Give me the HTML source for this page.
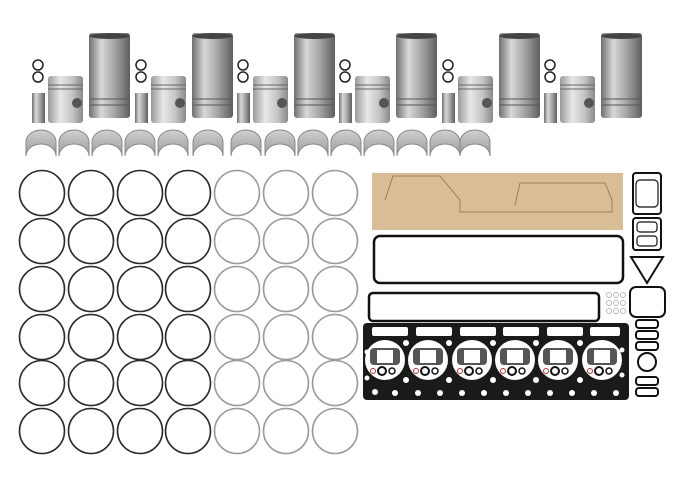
<!DOCTYPE html>
<html><head><style>html,body{margin:0;padding:0;background:#fff;width:689px;height:478px;overflow:hidden}</style></head>
<body>
<svg width="689" height="478" viewBox="0 0 689 478" xmlns="http://www.w3.org/2000/svg">
<defs>
<linearGradient id="met" x1="0" x2="1" y1="0" y2="0">
<stop offset="0" stop-color="#6f6f6f"/><stop offset="0.3" stop-color="#d8d8d8"/><stop offset="0.6" stop-color="#a9a9a9"/><stop offset="1" stop-color="#5e5e5e"/></linearGradient>
<linearGradient id="pis" x1="0" x2="1" y1="0" y2="0">
<stop offset="0" stop-color="#9a9a9a"/><stop offset="0.35" stop-color="#e8e8e8"/><stop offset="0.7" stop-color="#c4c4c4"/><stop offset="1" stop-color="#8a8a8a"/></linearGradient>
<linearGradient id="brg" x1="0" x2="0" y1="0" y2="1"><stop offset="0" stop-color="#d0d0d0"/><stop offset="1" stop-color="#9a9a9a"/></linearGradient>
<g id="set">
 <rect x="0" y="0" width="41" height="85" rx="3" fill="url(#met)"/>
 <ellipse cx="20.5" cy="3" rx="20" ry="3" fill="#444"/>
 <line x1="1" y1="66" x2="40" y2="66" stroke="#555"/><line x1="1" y1="72" x2="40" y2="72" stroke="#555"/>
 <rect x="-41" y="43" width="35" height="47" rx="3" fill="url(#pis)"/>
 <line x1="-41" y1="52" x2="-6" y2="52" stroke="#666"/><line x1="-41" y1="56" x2="-6" y2="56" stroke="#666"/>
 <circle cx="-12" cy="70" r="5" fill="#555"/>
 <rect x="-57" y="60" width="13" height="30" fill="url(#met)"/>
 <circle cx="-51" cy="32" r="5" fill="none" stroke="#222" stroke-width="1.5"/>
 <circle cx="-51" cy="44" r="5" fill="none" stroke="#222" stroke-width="1.5"/>
</g>
<g id="br"><path d="M0,12 A15,12 0 0 1 30,12 L30,26 A15,12 0 0 0 0,26 Z" fill="url(#brg)" stroke="#888"/></g>
<g id="bore">
 <circle r="20" fill="#fff"/>
 <rect x="-15" y="-12" width="30" height="17" rx="4" fill="#555"/>
 <rect x="-8" y="-10" width="16" height="13" fill="#fff"/>
 <circle cx="-12" cy="11" r="2.5" fill="none" stroke="#b33" stroke-width="1"/>
 <circle cx="-3" cy="11" r="4" fill="none" stroke="#111" stroke-width="2"/>
 <circle cx="7" cy="11" r="3" fill="none" stroke="#111" stroke-width="1.5"/>
</g>
</defs>
<use href="#set" x="89" y="33"/><use href="#set" x="192" y="33"/><use href="#set" x="294" y="33"/>
<use href="#set" x="396" y="33"/><use href="#set" x="499" y="33"/><use href="#set" x="601" y="33"/>
<g>
<use href="#br" x="26" y="130"/><use href="#br" x="59" y="130"/><use href="#br" x="92" y="130"/><use href="#br" x="125" y="130"/><use href="#br" x="158" y="130"/><use href="#br" x="193" y="130"/><use href="#br" x="231" y="130"/><use href="#br" x="265" y="130"/><use href="#br" x="298" y="130"/><use href="#br" x="331" y="130"/><use href="#br" x="364" y="130"/><use href="#br" x="397" y="130"/><use href="#br" x="430" y="130"/><use href="#br" x="460" y="130"/>
</g>
<g fill="none" stroke-width="1.6">
<g stroke="#2a2a2a">
<circle cx="42" cy="193" r="22.5"/><circle cx="91" cy="193" r="22.5"/><circle cx="140" cy="193" r="22.5"/><circle cx="188" cy="193" r="22.5"/>
<circle cx="42" cy="241" r="22.5"/><circle cx="91" cy="241" r="22.5"/><circle cx="140" cy="241" r="22.5"/><circle cx="188" cy="241" r="22.5"/>
<circle cx="42" cy="289" r="22.5"/><circle cx="91" cy="289" r="22.5"/><circle cx="140" cy="289" r="22.5"/><circle cx="188" cy="289" r="22.5"/>
<circle cx="42" cy="337" r="22.5"/><circle cx="91" cy="337" r="22.5"/><circle cx="140" cy="337" r="22.5"/><circle cx="188" cy="337" r="22.5"/>
<circle cx="42" cy="383" r="22.5"/><circle cx="91" cy="383" r="22.5"/><circle cx="140" cy="383" r="22.5"/><circle cx="188" cy="383" r="22.5"/>
<circle cx="42" cy="431" r="22.5"/><circle cx="91" cy="431" r="22.5"/><circle cx="140" cy="431" r="22.5"/><circle cx="188" cy="431" r="22.5"/>
</g>
<g stroke="#9a9a9a">
<circle cx="237" cy="193" r="22.5"/><circle cx="286" cy="193" r="22.5"/><circle cx="335" cy="193" r="22.5"/>
<circle cx="237" cy="241" r="22.5"/><circle cx="286" cy="241" r="22.5"/><circle cx="335" cy="241" r="22.5"/>
<circle cx="237" cy="289" r="22.5"/><circle cx="286" cy="289" r="22.5"/><circle cx="335" cy="289" r="22.5"/>
<circle cx="237" cy="337" r="22.5"/><circle cx="286" cy="337" r="22.5"/><circle cx="335" cy="337" r="22.5"/>
<circle cx="237" cy="383" r="22.5"/><circle cx="286" cy="383" r="22.5"/><circle cx="335" cy="383" r="22.5"/>
<circle cx="237" cy="431" r="22.5"/><circle cx="286" cy="431" r="22.5"/><circle cx="335" cy="431" r="22.5"/>
</g>
</g>
<!-- gaskets -->
<rect x="372" y="173" width="251" height="57" fill="#d9bd96"/>
<path d="M385,200 L393,176 L440,176 L460,200 L460,212 L612,212 L612,200 L605,183 L520,183 L515,205" fill="none" stroke="#8a6f4c" stroke-width="0.8"/>
<rect x="374" y="236" width="249" height="47" rx="6" fill="none" stroke="#111" stroke-width="2.5"/>
<rect x="369" y="293" width="230" height="28" rx="4" fill="none" stroke="#111" stroke-width="2.5"/>
<rect x="363" y="323" width="266" height="77" rx="4" fill="#1a1a1a"/>
<g fill="#fff">
<rect x="372" y="327" width="36" height="9" rx="2"/><rect x="416" y="327" width="36" height="9" rx="2"/><rect x="460" y="327" width="36" height="9" rx="2"/><rect x="503" y="327" width="36" height="9" rx="2"/><rect x="547" y="327" width="36" height="9" rx="2"/><rect x="590" y="327" width="30" height="9" rx="2"/>
<circle cx="367" cy="352" r="2.5"/><circle cx="367" cy="378" r="2.5"/><circle cx="406" cy="343" r="3"/><circle cx="449" cy="343" r="3"/><circle cx="493" cy="343" r="3"/><circle cx="536" cy="343" r="3"/><circle cx="580" cy="343" r="3"/><circle cx="622" cy="350" r="2.5"/>
<circle cx="406" cy="380" r="3"/><circle cx="449" cy="380" r="3"/><circle cx="493" cy="380" r="3"/><circle cx="536" cy="380" r="3"/><circle cx="580" cy="380" r="3"/><circle cx="622" cy="375" r="2.5"/>
<circle cx="375" cy="392" r="3"/><circle cx="395" cy="393" r="3"/><circle cx="418" cy="393" r="3"/><circle cx="440" cy="393" r="3"/><circle cx="462" cy="393" r="3"/><circle cx="484" cy="393" r="3"/><circle cx="506" cy="393" r="3"/><circle cx="528" cy="393" r="3"/><circle cx="550" cy="393" r="3"/><circle cx="572" cy="393" r="3"/><circle cx="594" cy="393" r="3"/><circle cx="616" cy="393" r="3"/>
</g>
<use href="#bore" x="385" y="360"/><use href="#bore" x="428" y="360"/><use href="#bore" x="472" y="360"/><use href="#bore" x="515" y="360"/><use href="#bore" x="558" y="360"/><use href="#bore" x="602" y="360"/>
<g fill="none" stroke="#111" stroke-width="2">
<rect x="633" y="173" width="28" height="41" rx="3"/>
<rect x="636" y="180" width="22" height="27" rx="4" stroke-width="1.2"/>
<rect x="633" y="218" width="28" height="32" rx="3"/>
<rect x="637" y="222" width="20" height="10" rx="3" stroke-width="1.2"/><rect x="637" y="236" width="20" height="10" rx="3" stroke-width="1.2"/>
<path d="M631,257 L663,257 L647,283 Z"/>
<rect x="630" y="287" width="35" height="30" rx="6"/>
<g stroke="#bbb" stroke-width="1"><circle cx="609" cy="295" r="2.5"/><circle cx="616" cy="295" r="2.5"/><circle cx="623" cy="295" r="2.5"/><circle cx="609" cy="303" r="2.5"/><circle cx="616" cy="303" r="2.5"/><circle cx="623" cy="303" r="2.5"/><circle cx="609" cy="311" r="2.5"/><circle cx="616" cy="311" r="2.5"/><circle cx="623" cy="311" r="2.5"/></g>
<rect x="636" y="320" width="22" height="8" rx="3"/>
<rect x="636" y="331" width="22" height="8" rx="3"/>
<rect x="636" y="342" width="22" height="8" rx="3"/>
<circle cx="647" cy="362" r="9"/>
<rect x="636" y="377" width="22" height="8" rx="3"/>
<rect x="636" y="388" width="22" height="8" rx="3"/>
</g>
</svg>
</body></html>
